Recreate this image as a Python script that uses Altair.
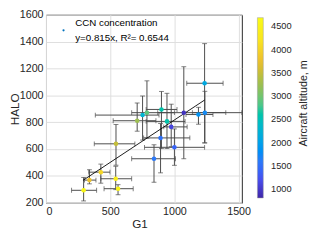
import altair as alt
import pandas as pd

# ---- data ----
g1 =      [1235, 1073, 1237, 1187,  899,  786,  752,  710,  942,  975,  892, 1000,  841,  545,  427,  338,  543,  561,  293]
halo =    [1090,  871,  871,  857,  895,  871,  853,  811,  806,  765,  683,  613,  528,  639,  428,  369,  379,  305,  293]
g1_lo =   [1096,  870, 1140, 1090,  780,  667,  384,  523,  780,  917,  760,  767,  667,  376,  333,  300,  427,  452,  199]
g1_hi =   [1379, 1525, 1400, 1300, 1020, 1000,  880,  856, 1083, 1099, 1120, 1235, 1008,  692,  498,  389,  667,  679,  394]
halo_lo = [ 646,  528,  646,  785,  604,  681,  667,  733,  604,  618,  423,  479,  353,  480,  346,  341,  298,  260,  214]
halo_hi = [1385, 1213, 1030,  911, 1029, 1108,  995,  943, 1015,  934,  790,  750,  632,  783,  488,  446,  472,  335,  388]
altitude = [2100, 950, 1780, 1850, 2600, 2900, 2300, 3250, 2600, 1120, 1510, 1390, 1590, 3500, 4050, 3800, 4400, 4550, 4600]

fit_x = [288, 1235]
fit_y = [367, 965]

x_ticks = [0, 500, 1000, 1500]
y_ticks = [200, 400, 600, 800, 1000, 1200, 1400, 1600]
cbar_ticks = [1000, 1500, 2000, 2500, 3000, 3500, 4000, 4500]

legend_labels = ["CCN concentration", "y=0.815x, R\u00b2= 0.6544"]
cbar_title = ["Aircraft altitude, m"]

parula_colors = ["#3e26a8", "#4852f4", "#2e87f7", "#12b1d6", "#37c897",
                 "#97bf55", "#eaba30", "#f9e420", "#f9fb15"]
parula_stops = [810, 1241, 1734, 2227, 2719, 3212, 3705, 4197, 4690]

df = pd.DataFrame({
    "g1": g1, "halo": halo, "g1_lo": g1_lo, "g1_hi": g1_hi,
    "halo_lo": halo_lo, "halo_hi": halo_hi, "alt": altitude,
})
fit = pd.DataFrame({"g1": fit_x, "halo": fit_y})

FONT = "Liberation Sans"
INK = "#262626"
BAR = "#4a4a4a"

xscale = alt.Scale(domain=[0, 1525], nice=False, zero=False)
yscale = alt.Scale(domain=[200, 1600], nice=False, zero=False)
xaxis = alt.Axis(values=x_ticks, format="d", title="G1", labelPadding=3, titleX=96, titleY=25,
                 titleBaseline="alphabetic", titleAlign="center")
yaxis = alt.Axis(values=y_ticks, format="d", title="HALO", labelPadding=3, titleX=-32, titleY=96.5,
                 titleBaseline="middle", titleAlign="center", titleAngle=270)


def X(field):
    return alt.X(f"{field}:Q", scale=xscale, axis=xaxis)


def Y(field):
    return alt.Y(f"{field}:Q", scale=yscale, axis=yaxis)


base = alt.Chart(df)

xbars = base.mark_rule(color=BAR, strokeWidth=1).encode(x=X("g1_lo"), x2="g1_hi:Q", y=Y("halo"))
ybars = base.mark_rule(color=BAR, strokeWidth=1).encode(x=X("g1"), y=Y("halo_lo"), y2="halo_hi:Q")
cap_xl = base.mark_tick(color=BAR, orient="vertical", size=5, thickness=1).encode(x=X("g1_lo"), y=Y("halo"))
cap_xh = base.mark_tick(color=BAR, orient="vertical", size=5, thickness=1).encode(x=X("g1_hi"), y=Y("halo"))
cap_yl = base.mark_tick(color=BAR, orient="horizontal", size=5, thickness=1).encode(x=X("g1"), y=Y("halo_lo"))
cap_yh = base.mark_tick(color=BAR, orient="horizontal", size=5, thickness=1).encode(x=X("g1"), y=Y("halo_hi"))

fit_line = alt.Chart(fit).mark_line(color="black", strokeWidth=0.9).encode(x=X("g1"), y=Y("halo"))

points = base.mark_circle(size=22, opacity=1).encode(
    x=X("g1"), y=Y("halo"),
    color=alt.Color(
        "alt:Q",
        scale=alt.Scale(domain=parula_stops, range=parula_colors),
        legend=alt.Legend(
            orient="none", legendX=217, legendY=3, direction="vertical",
            gradientLength=185, gradientThickness=6, values=cbar_ticks, title="", format="d",
            labelFont=FONT, labelFontSize=9.5, labelColor=INK, labelOffset=8,
            gradientStrokeColor="#999999", gradientStrokeWidth=0.5,
        ),
    ),
)

leg = pd.DataFrame({"t": legend_labels, "row": [0, 1]})
leg_text1 = alt.Chart(leg.iloc[[0]]).mark_text(align="left", baseline="middle", font=FONT,
                                               fontSize=10, color="black").encode(
    x=alt.value(30), y=alt.value(9), text="t:N")
leg_text2 = alt.Chart(leg.iloc[[1]]).mark_text(align="left", baseline="middle", font=FONT,
                                               fontSize=10, color="black").encode(
    x=alt.value(30), y=alt.value(24), text="t:N")
leg_dot = alt.Chart(leg.iloc[[0]]).mark_circle(size=5, color="#0072BD", opacity=1).encode(
    x=alt.value(18), y=alt.value(16))

ctitle = alt.Chart(pd.DataFrame({"t": cbar_title})).mark_text(
    angle=270, align="center", baseline="middle", font=FONT, fontSize=11, color=INK
).encode(x=alt.value(265), y=alt.value(91), text="t:N")

chart = alt.layer(
    xbars, ybars, cap_xl, cap_xh, cap_yl, cap_yh, fit_line, points,
    leg_dot, leg_text1, leg_text2, ctitle,
).properties(
    width=201, height=193,
    autosize=alt.AutoSizeParams(type="none"),
    padding={"left": 39, "top": 4, "right": 72, "bottom": 25},
    background="white",
).configure_view(
    stroke=INK, strokeWidth=1,
).configure_axis(
    grid=True, gridColor="#dedede", gridWidth=1, ticks=False, domain=False,
    labelFont=FONT, labelFontSize=11, labelColor=INK,
    titleFont=FONT, titleFontSize=12, titleFontWeight="normal", titleColor=INK,
)

chart.save("out.html", embed_options={"renderer": "svg", "actions": False})
